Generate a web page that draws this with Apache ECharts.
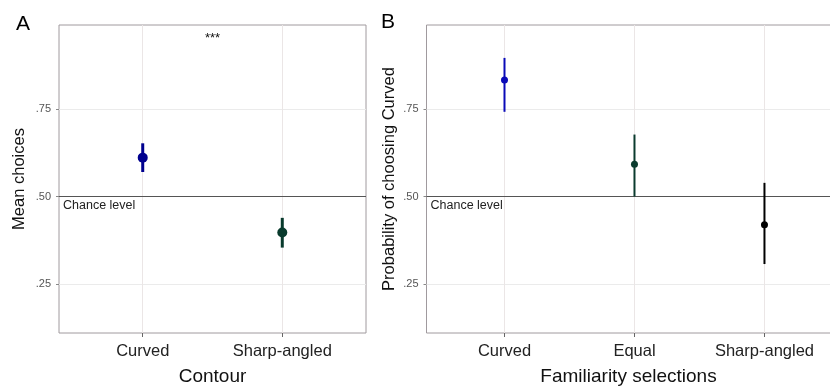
<!DOCTYPE html>
<html>
<head>
<meta charset="utf-8">
<script src="https://cdn.jsdelivr.net/npm/echarts@6/dist/echarts.min.js"></script>
<style>html,body{margin:0;padding:0;background:#fff;}#c{width:830px;height:389px;}</style>
</head>
<body>
<div id="c"></div>
<script>
// ---- data ----
const catsA = ['Curved', 'Sharp-angled'];
const meanA = [0.611, 0.397];
const loA = [0.570, 0.354];
const hiA = [0.652, 0.439];

const catsB = ['Curved', 'Equal', 'Sharp-angled'];
const meanB = [0.833, 0.592, 0.419];
const loB = [0.742, 0.500, 0.307];
const hiB = [0.896, 0.677, 0.539];

const yTicks = [0.25, 0.5, 0.75];
const yTickLabels = ['.25', '.50', '.75'];
const chanceLevel = 0.5;
const sigMark = '***';

// ---- styles ----
const colorsA = ['#00008f', '#083a2c'];
const colorsB = ['#0a0ab8', '#0b3b2e', '#000000'];
const FONT = '"Liberation Sans", Arial, sans-serif';

const chart = echarts.init(document.getElementById('c'));

function errSeries(cats, lo, hi, colors, axisIdx, lw) {
  return {
    type: 'custom',
    xAxisIndex: axisIdx, yAxisIndex: axisIdx,
    z: 5,
    data: cats.map((c, i) => [i + 1, lo[i], hi[i]]),
    renderItem: function (params, api) {
      const p1 = api.coord([api.value(0), api.value(1)]);
      const p2 = api.coord([api.value(0), api.value(2)]);
      return {
        type: 'line',
        shape: { x1: p1[0], y1: p1[1], x2: p2[0], y2: p2[1] },
        style: { stroke: colors[params.dataIndex], lineWidth: lw }
      };
    }
  };
}
function pointSeries(cats, mean, colors, axisIdx, size) {
  return {
    type: 'scatter',
    xAxisIndex: axisIdx, yAxisIndex: axisIdx,
    z: 6,
    symbolSize: size,
    data: cats.map((c, i) => ({ value: [i + 1, mean[i]], itemStyle: { color: colors[i], opacity: 1 } }))
  };
}
function gridSeries(cats, axisIdx, withSig) {
  const ml = [];
  yTicks.forEach(v => {
    if (v !== chanceLevel) ml.push({ yAxis: v, lineStyle: { color: '#ebebeb', width: 1, type: 'solid' }, label: { show: false } });
  });
  cats.forEach((c, i) => ml.push({ xAxis: i + 1, lineStyle: { color: '#ebe6e6', width: 1, type: 'solid' }, label: { show: false } }));
  ml.push({
    yAxis: chanceLevel,
    lineStyle: { color: '#555555', width: 1, type: 'solid' },
    label: { show: true, formatter: 'Chance level', position: 'insideStartBottom', distance: [4, 3],
      color: '#222', fontSize: 12.5, fontFamily: FONT }
  });
  const s = {
    type: 'scatter',
    xAxisIndex: axisIdx, yAxisIndex: axisIdx,
    z: 1,
    silent: true,
    data: [],
    markLine: { silent: true, symbol: ['none', 'none'], animation: false, data: ml }
  };
  if (withSig) {
    s.markPoint = {
      symbol: 'rect', symbolSize: 0,
      label: { show: true, formatter: sigMark, color: '#111', fontSize: 13, fontFamily: FONT, position: 'inside' },
      data: [{ coord: [(cats.length + 1) / 2, 0.951] }]
    };
  }
  return s;
}
function xAxis(cats, gridIdx, name, maxV) {
  return {
    type: 'value', gridIndex: gridIdx,
    min: 0.4, max: maxV,
    name: name, nameLocation: 'middle', nameGap: 34,
    nameTextStyle: { fontSize: 19, color: '#111', fontFamily: FONT },
    axisLine: { show: false },
    splitLine: { show: false },
    axisTick: { show: true, customValues: cats.map((c, i) => i + 1), length: 4, lineStyle: { color: '#666' } },
    axisLabel: { customValues: cats.map((c, i) => i + 1), formatter: v => cats[Math.round(v) - 1] || '',
      fontSize: 16.5, color: '#222', fontFamily: FONT, margin: 10 }
  };
}
function yAxis(gridIdx, name, gap) {
  return {
    type: 'value', gridIndex: gridIdx,
    min: 0.11, max: 0.99,
    name: name, nameLocation: 'middle', nameGap: gap,
    nameTextStyle: { fontSize: 16.5, color: '#111', fontFamily: FONT },
    axisLine: { show: false },
    splitLine: { show: false },
    axisTick: { show: true, customValues: yTicks, length: 3, lineStyle: { color: '#888' } },
    axisLabel: { customValues: yTicks, formatter: v => yTickLabels[yTicks.indexOf(v)] || '',
      fontSize: 11, color: '#555', fontFamily: FONT, margin: 8 }
  };
}

chart.setOption({
  animation: false,
  backgroundColor: '#fff',
  title: [
    { text: 'A', left: 11, top: 9, textStyle: { fontSize: 21, fontWeight: 'normal', color: '#000', fontFamily: FONT } },
    { text: 'B', left: 376, top: 7, textStyle: { fontSize: 21, fontWeight: 'normal', color: '#000', fontFamily: FONT } }
  ],
  grid: [
    { left: 59, top: 25, width: 307, height: 308, outerBoundsMode: 'none', containLabel: false,
      show: true, borderColor: '#a09a9e', borderWidth: 1, backgroundColor: 'transparent' },
    { left: 426.5, top: 25, width: 404, height: 308, outerBoundsMode: 'none', containLabel: false,
      show: true, borderColor: '#a09a9e', borderWidth: 1, backgroundColor: 'transparent' }
  ],
  xAxis: [xAxis(catsA, 0, 'Contour', 2.6), xAxis(catsB, 1, 'Familiarity selections', 3.508)],
  yAxis: [yAxis(0, 'Mean choices', 31), yAxis(1, 'Probability of choosing Curved', 29)],
  series: [
    gridSeries(catsA, 0, true),
    gridSeries(catsB, 1, false),
    errSeries(catsA, loA, hiA, colorsA, 0, 3),
    errSeries(catsB, loB, hiB, colorsB, 1, 2),
    pointSeries(catsA, meanA, colorsA, 0, 10),
    pointSeries(catsB, meanB, colorsB, 1, 7)
  ]
});
</script>
</body>
</html>
